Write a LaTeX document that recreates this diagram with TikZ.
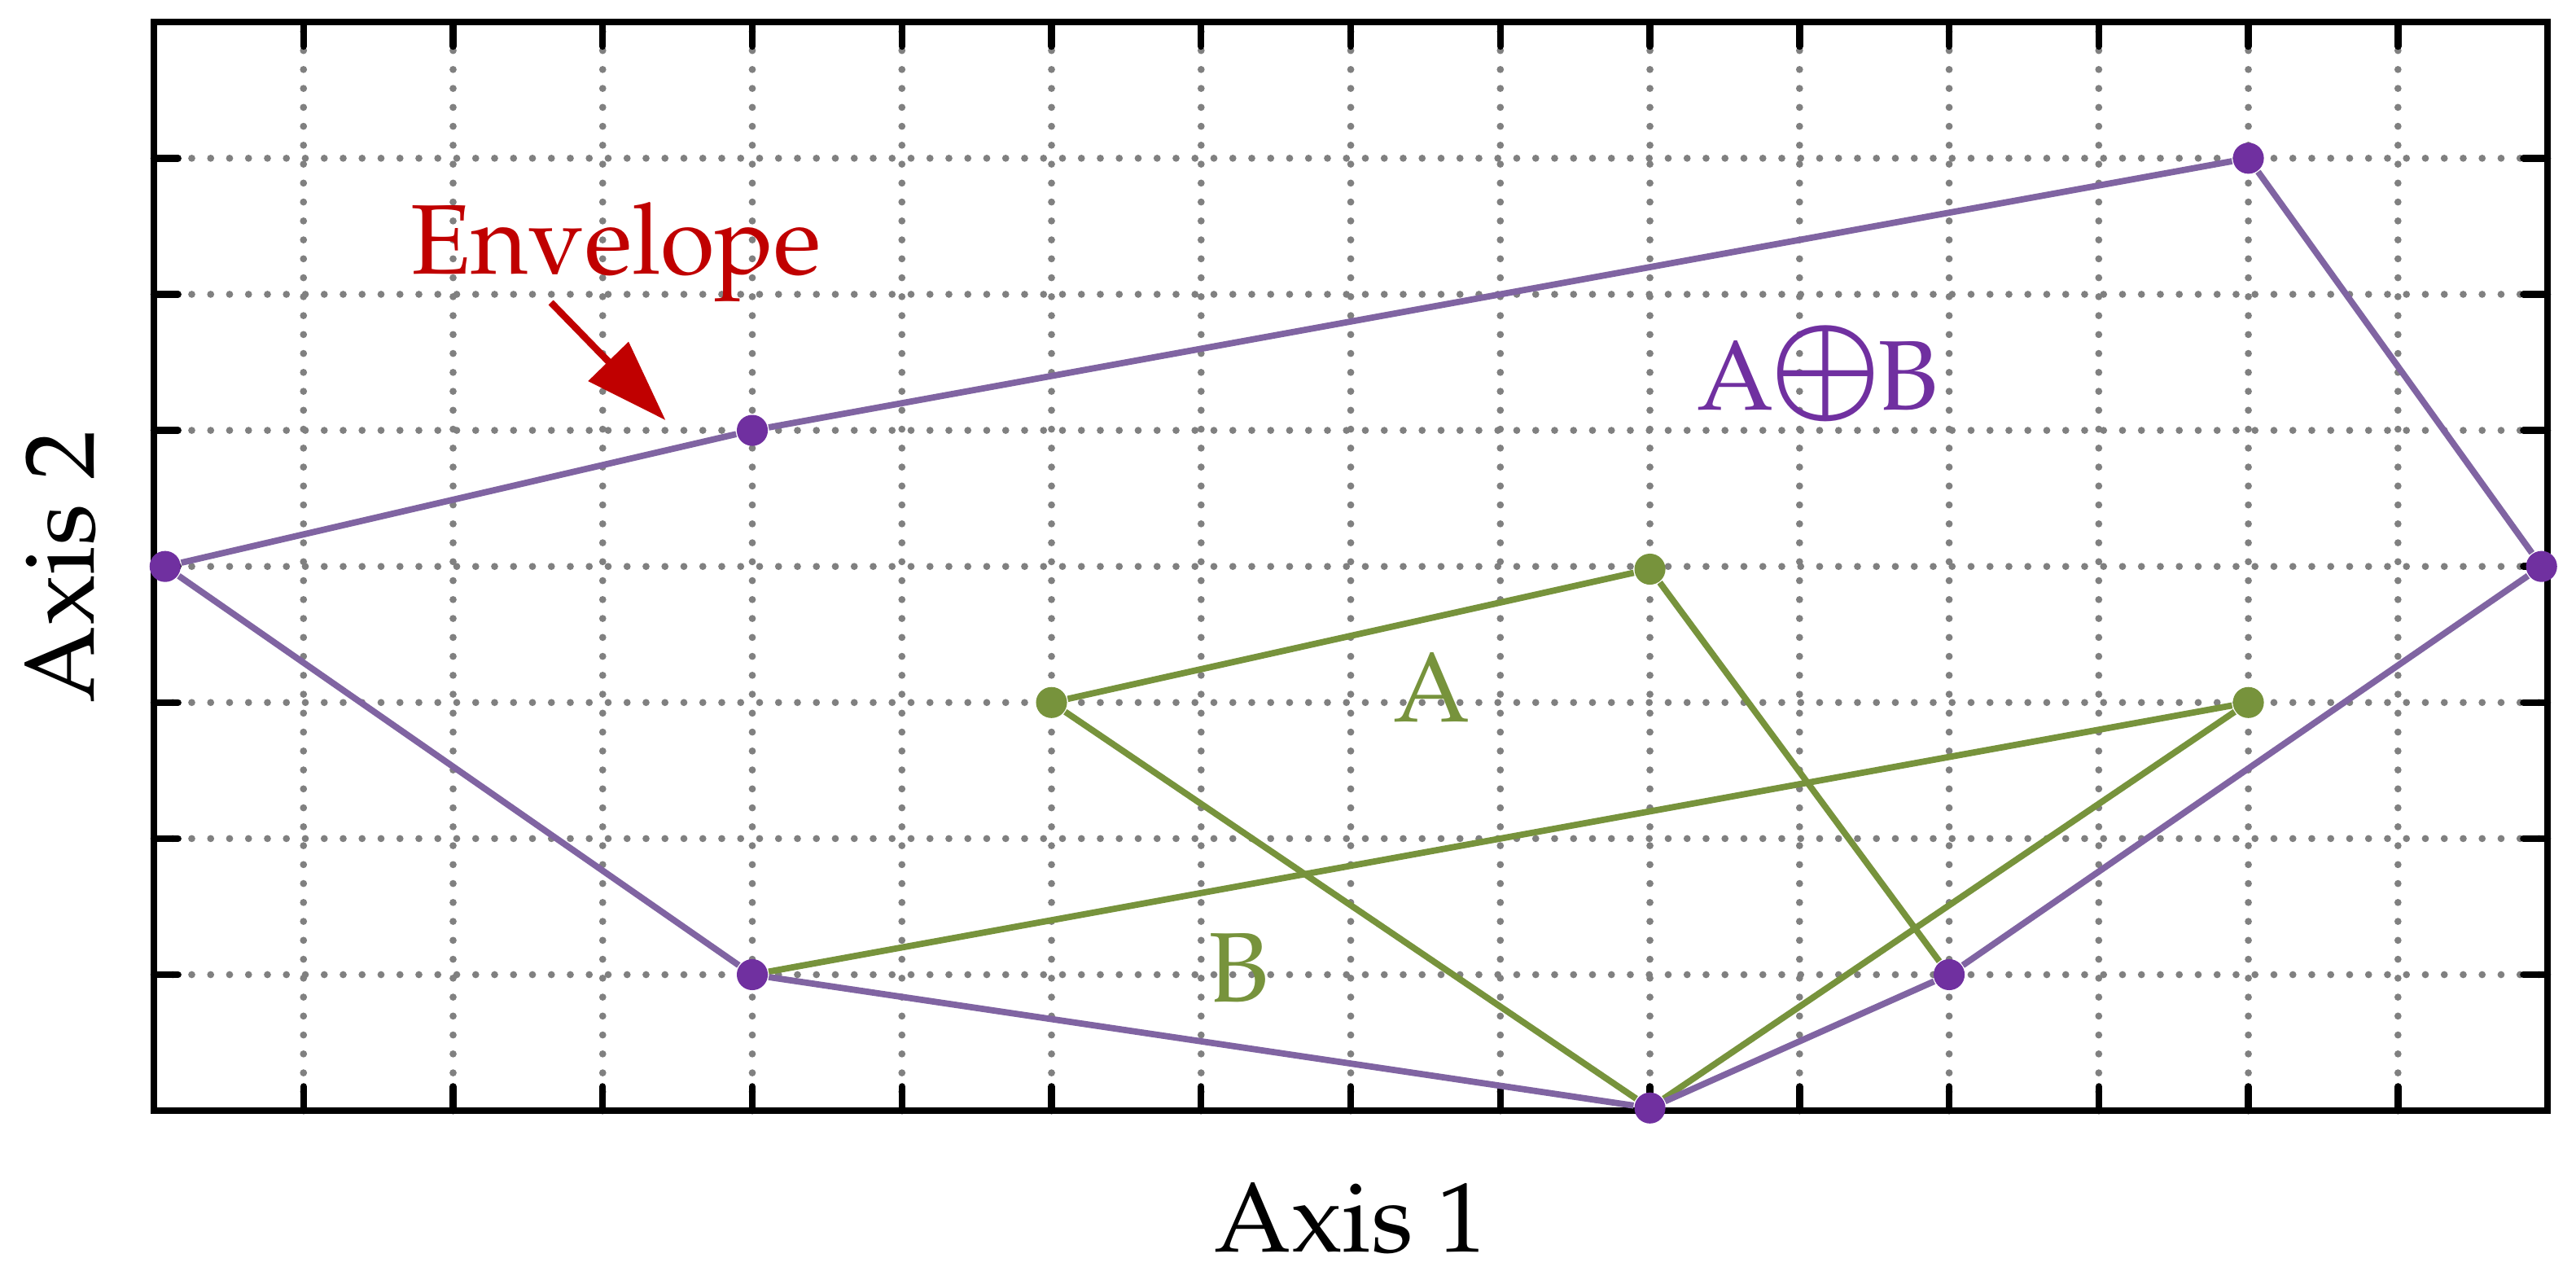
\documentclass[tikz,border=0pt]{standalone}
\usepackage[T1]{fontenc}
\usepackage{mathpazo}
\usepackage{graphicx}
\usetikzlibrary{arrows.meta}
\definecolor{envred}{HTML}{C00000}
\definecolor{sumpurple}{HTML}{7030A0}
\definecolor{edgepurple}{HTML}{8064A2}
\definecolor{setgreen}{HTML}{77933C}
\definecolor{gridgray}{HTML}{808080}
\begin{document}
\begin{tikzpicture}[
    x=1cm, y=0.9094cm,
    every node/.style={inner sep=0pt, font=\fontsize{18.8}{22}\selectfont},
    gridline/.style={gridgray, line width=1.35pt, line cap=round, dash pattern=on 0pt off 3.6pt},
    frameline/.style={black, line width=1.3pt},
    tickmark/.style={black, line width=1.3pt, line cap=round},
    sumdot/.style={circle, fill=sumpurple, minimum size=5.9pt},
    setdot/.style={circle, fill=setgreen, minimum size=5.9pt},
    sumedge/.style={edgepurple, line width=1.2pt},
    setedge/.style={setgreen, line width=1.2pt},
    envarrow/.style={envred, line width=1.3pt, -{Triangle[length=15.6pt,width=10.4pt]}}
]
\useasboundingbox (-1.0286,-1.239) rectangle (16.19,8.163);
\foreach \i in {1,...,15} \draw[gridline] (\i,0) -- (\i,8);
\foreach \j in {1,...,7} \draw[gridline] (0,\j) -- (16,\j);
\foreach \i in {1,...,15} {
    \draw[tickmark] (\i,0) -- ++(0,4.6pt);
    \draw[tickmark] (\i,8) -- ++(0,-4.6pt);
}
\foreach \j in {1,...,7} {
    \draw[tickmark] (0,\j) -- ++(4.6pt,0);
    \draw[tickmark] (16,\j) -- ++(-4.6pt,0);
}
\draw[frameline] (0,0) rectangle (16,8);

\node[setdot] (g1) at (6,3) {};
\node[setdot] (g2) at (10,3.98) {};
\node[setdot] (g3) at (14,3) {};
\node[sumdot] (p1) at (0.075,4) {};
\node[sumdot] (p2) at (4,5) {};
\node[sumdot] (p3) at (14,7) {};
\node[sumdot] (p4) at (15.96,4) {};
\node[sumdot] (p5) at (12,1) {};
\node[sumdot] (p6) at (10,0.02) {};
\node[sumdot] (p7) at (4,1) {};

\draw[setedge] (g1) -- (g2) -- (p5);
\draw[setedge] (g1) -- (p6);
\draw[setedge] (p7) -- (g3) -- (p6);
\draw[sumedge] (p1) -- (p2) -- (p3) -- (p4) -- (p5) -- (p6) -- (p7) -- (p1);

\node[anchor=base, text=envred] (envlabel) at (3.09,6.15) {Envelope};
\coordinate (envtail) at (2.654,5.94);
\coordinate (envtip) at (3.42,5.075);
\draw[envarrow] (envtail) -- (envtip);

\node[anchor=base, text=sumpurple] (sumlabel) at (11.12,5.15)
    {A\kern-0.06em\raisebox{0.05em}{\scalebox{1.22}{\boldmath$\oplus$}}\kern-0.06em B};
\node[anchor=base, text=setgreen] (alabel) at (8.54,2.86) {A};
\node[anchor=base, text=setgreen] (blabel) at (7.25,0.80) {B};

\node[anchor=base] (xlabel) at (8,-1.035) {Axis 1};
\node[anchor=base, rotate=90] (ylabel) at (-0.402,4) {Axis 2};
\end{tikzpicture}
\end{document}
